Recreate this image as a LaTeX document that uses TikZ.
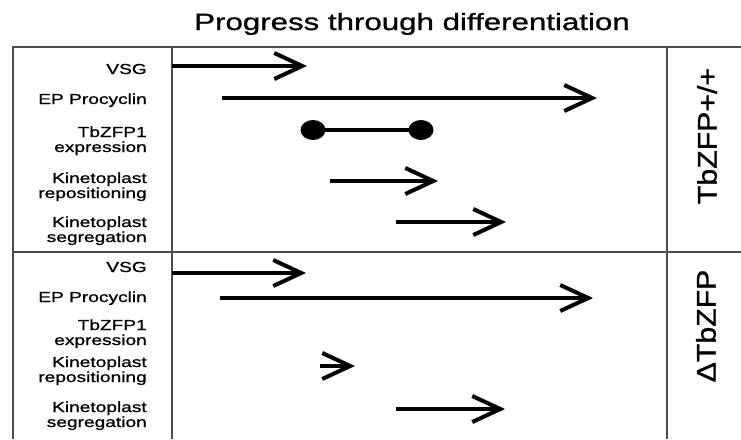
\documentclass[tikz,border=0pt]{standalone}
\usepackage{fontspec}
\setmainfont{Liberation Sans}
\newfontfamily\labelfont[FakeStretch=1.32, FakeBold=1]{Liberation Sans}
\newfontfamily\titlefont[FakeStretch=1.33, FakeBold=1]{Liberation Sans}
\newfontfamily\sidefont[FakeStretch=1.12, FakeBold=1]{Liberation Sans}
\usetikzlibrary{arrows.meta}

\tikzset{
    frame/.style={line width=2pt, draw=black!70},
    track/.style={line width=4pt, -{Straight Barb[length=28pt, width=26pt]}},
    lbl/.style={anchor=base east, align=right, inner sep=0pt,
        font=\labelfont\fontsize{14.5}{15}\selectfont},
    side/.style={rotate=90, inner sep=0pt,
        font=\sidefont\fontsize{27}{30}\selectfont},
    blob/.style={x radius=12.5pt, y radius=10pt}
}

\begin{document}
\begin{tikzpicture}[x=1pt, y=-1pt]
    %% canvas
    \useasboundingbox (0,0) rectangle (741,439);

    %% define grid lines
    \def\Xa{13};
    \def\Xb{172};
    \def\Xc{667};
    \def\Ytop{47};
    \def\Ymid{252};
    \def\Xlbl{147};

    %% title
    \node[anchor=base, inner sep=0pt, font=\titlefont\fontsize{23.5}{26}\selectfont]
        (title) at (412,30) {Progress through differentiation};

    %% frame
    \draw[frame] (\Xa,439) -- (\Xa,\Ytop) -- (741,\Ytop);
    \draw[frame] (\Xb,\Ytop) -- (\Xb,439);
    \draw[frame] (\Xc,\Ytop) -- (\Xc,439);
    \draw[frame] (\Xa,\Ymid) -- (741,\Ymid);

    %% labels, upper panel (base = last line)
    \node[lbl] (vsgA) at (\Xlbl,74) {VSG};
    \node[lbl] (epA) at (\Xlbl,104) {EP Procyclin};
    \node[lbl] (zfpA) at (\Xlbl,152) {TbZFP1\\expression};
    \node[lbl] (repA) at (\Xlbl,198) {Kinetoplast\\repositioning};
    \node[lbl] (segA) at (\Xlbl,242) {Kinetoplast\\segregation};

    %% labels, lower panel
    \node[lbl] (vsgB) at (\Xlbl,272) {VSG};
    \node[lbl] (epB) at (\Xlbl,302) {EP Procyclin};
    \node[lbl] (zfpB) at (\Xlbl,345) {TbZFP1\\expression};
    \node[lbl] (repB) at (\Xlbl,382) {Kinetoplast\\repositioning};
    \node[lbl] (segB) at (\Xlbl,427) {Kinetoplast\\segregation};

    %% arrows, upper panel
    \draw[track] (\Xb,66) -- (307,66);
    \draw[track] (222,98) -- (597,98);
    \draw[line width=4pt] (313,130) -- (421,130);
    \fill (313,130) ellipse[blob];
    \fill (421,130) ellipse[blob];
    \draw[track] (330,181) -- (438,181);
    \draw[track] (396,222) -- (506,222);

    %% arrows, lower panel
    \draw[track] (\Xb,273) -- (306,273);
    \draw[track] (220,298) -- (593,298);
    \draw[track] (320,366) -- (355,366);
    \draw[track] (396,409) -- (505,409);

    %% side labels
    \node[side] (wt) at (707,136) {TbZFP+/+};
    \node[side] (ko) at (706,326) {ΔTbZFP};
\end{tikzpicture}
\end{document}
